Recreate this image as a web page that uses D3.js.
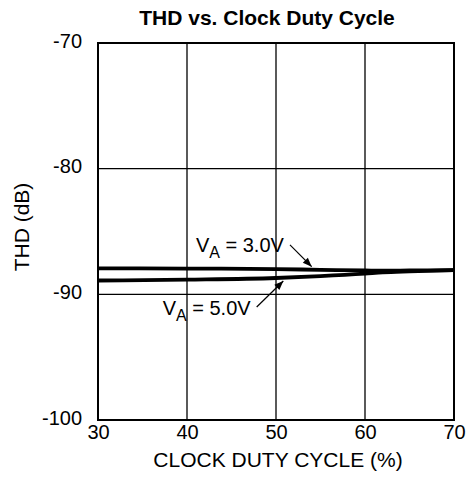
<!DOCTYPE html>
<html><head><meta charset="utf-8">
<script src="https://cdn.jsdelivr.net/npm/d3@7"></script>
<style>body{margin:0;background:#fff}svg{display:block;font-family:"Liberation Sans",Arial,sans-serif}</style>
</head><body><svg id="c" width="469" height="485"></svg>
<script>
const dutyCycle = [30, 40, 50, 55, 60, 62, 65, 70];
const thd3V = [-87.93, -87.95, -87.99, -88.05, -88.1, -88.12, -88.1, -88.07];
const thd5V = [-88.9, -88.83, -88.7, -88.55, -88.35, -88.25, -88.17, -88.07];
const xTicks = [30, 40, 50, 60, 70];
const yTicks = [-70, -80, -90, -100];
const labels = [
  {v: "V", sub: "A", rest: " = 3.0V", x: 41.0, y: -86.61, ax1: 51.57, ay1: -86.07, ax2: 54.01, ay2: -87.80},
  {v: "V", sub: "A", rest: " = 5.0V", x: 37.27, y: -91.64, ax1: 47.83, ay1: -91.01, ax2: 50.82, ay2: -88.94}
];

const svg = d3.select("#c");
const m = {l: 98, r: 454, t: 43, b: 420};
const x = d3.scaleLinear().domain([30, 70]).range([m.l, m.r]);
const y = d3.scaleLinear().domain([-100, -70]).range([m.b, m.t]);
const FF = '"Liberation Sans",Arial,sans-serif';

svg.append("defs").append("marker").attr("id","ah").attr("viewBox","0 0 10 10")
  .attr("refX",10).attr("refY",5).attr("markerWidth",10).attr("markerHeight",9)
  .attr("markerUnits","userSpaceOnUse").attr("orient","auto")
  .append("path").attr("d","M0,1 L10,5 L0,9 Z").attr("fill","#000");

// grid
const g = svg.append("g");
g.selectAll(".vx").data(xTicks).join("line")
  .attr("x1", d => x(d)).attr("x2", d => x(d)).attr("y1", m.t).attr("y2", m.b)
  .attr("stroke", "#000").attr("stroke-width", 1.3);
g.selectAll(".hy").data(yTicks).join("line")
  .attr("y1", d => y(d)).attr("y2", d => y(d)).attr("x1", m.l).attr("x2", m.r)
  .attr("stroke", "#000").attr("stroke-width", 1.3);
svg.append("rect").attr("x", m.l).attr("y", m.t).attr("width", m.r - m.l).attr("height", m.b - m.t)
  .attr("fill", "none").attr("stroke", "#000").attr("stroke-width", 2);

// axes labels via d3 axes
const xAxis = svg.append("g").attr("transform", `translate(0,${m.b})`)
  .call(d3.axisBottom(x).tickValues(xTicks).tickSize(0).tickPadding(5).tickFormat(d3.format("d")));
xAxis.select(".domain").remove();
xAxis.selectAll("text").attr("font-size", 20).attr("fill", "#000").attr("font-family", FF);
const yAxis = svg.append("g").attr("transform", `translate(${m.l},0)`)
  .call(d3.axisLeft(y).tickValues(yTicks).tickSize(0).tickPadding(16).tickFormat(d => d));
yAxis.select(".domain").remove();
yAxis.selectAll("text").attr("font-size", 20).attr("fill", "#000").attr("font-family", FF).attr("dy", "0.2em");

// lines
const line = d3.line().x((d, i) => x(dutyCycle[i])).y(d => y(d)).curve(d3.curveMonotoneX);
[thd3V, thd5V].forEach(s => {
  svg.append("path").attr("d", line(s)).attr("fill", "none").attr("stroke", "#000").attr("stroke-width", 3.8);
});

// annotations
labels.forEach(l => {
  const t = svg.append("text").attr("x", x(l.x)).attr("y", y(l.y)).attr("font-size", 20).attr("fill", "#000");
  t.append("tspan").text(l.v);
  t.append("tspan").text(l.sub).attr("font-size", 16).attr("dy", 6);
  t.append("tspan").text(l.rest).attr("dy", -6);
  svg.append("line").attr("x1", x(l.ax1)).attr("y1", y(l.ay1)).attr("x2", x(l.ax2)).attr("y2", y(l.ay2))
    .attr("stroke", "#000").attr("stroke-width", 1.2).attr("marker-end", "url(#ah)");
});

// titles
svg.append("text").attr("x", 267).attr("y", 25).attr("text-anchor", "middle")
  .attr("font-size", 21).attr("font-weight", "bold").text("THD vs. Clock Duty Cycle");
svg.append("text").attr("x", 278).attr("y", 467).attr("text-anchor", "middle")
  .attr("font-size", 21).text("CLOCK DUTY CYCLE (%)");
svg.append("text").attr("transform", "translate(29,227) rotate(-90)").attr("text-anchor", "middle")
  .attr("font-size", 21).text("THD (dB)");
</script></body></html>
